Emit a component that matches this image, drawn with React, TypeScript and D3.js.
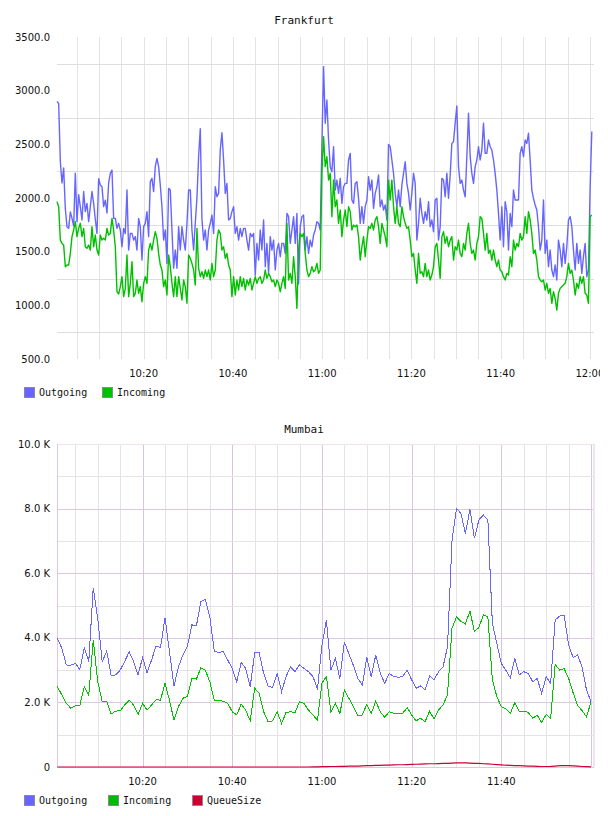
import React from "react";
import * as d3 from "d3";

// Frankfurt throughput, one sample every 22.4 s starting 10:00:35
const frankfurtOutgoing = [
  2900, 2880, 2340, 2140, 2280, 1900, 1733, 1717, 1870, 1810,
  1740, 2230, 1780, 2030, 1920, 1795, 2060, 1873, 1950, 1780,
  1920, 2060, 1950, 1800, 1670, 2180, 2120, 2105, 1920, 1980,
  1860, 2140, 2230, 2260, 1810, 1810, 1717, 1764, 1702, 1546,
  1717, 1670, 2074, 1515, 1670, 1670, 1608, 1640, 1515, 1810,
  1733, 1422, 1733, 1764, 1873, 1640, 2152, 2183, 2059, 2292,
  2369, 2292, 2121, 1919, 1608, 1702, 1391, 2090, 2074, 1702,
  1345, 1515, 1345, 1733, 1515, 1733, 1608, 1515, 1764, 2074,
  2074, 1702, 1515, 1764, 2000, 2385, 2646, 1800, 1608, 1702,
  1515, 1702, 1764, 1841, 1670, 2105, 2012, 2043, 2447, 2608,
  2354, 2043, 2136, 1795, 1810, 1873, 1919, 1670, 1733, 1608,
  1717, 1640, 1717, 1717, 1608, 1515, 1670, 1640, 1670, 1280,
  1577, 1422, 1702, 1515, 1795, 1360, 1577, 1300, 1640, 1515,
  1608, 1330, 1515, 1577, 1453, 1577, 1577, 1484, 1857, 1826,
  1577, 1702, 1826, 1577, 1857, 1200,
  1733, 1826, 1841, 1515, 1640, 1484, 1608, 1546, 1655, 1702,
  1779, 1764, 1702, 2500, 3224, 2696, 2913, 2540, 2292, 2245,
  2478, 2074, 2167, 2043, 2183, 1950, 2105, 2136, 2136, 2354,
  2416, 1981, 1950, 2136, 2152, 1997, 1764, 1919, 1764, 1919,
  1981, 2198, 2074, 2167, 1904, 2043, 2105, 2214, 1919, 1981,
  1888, 1935, 1795, 2500, 2478, 2354, 2230, 2043, 1919, 2074,
  1919, 2121, 2230, 2338, 2136, 2043, 1888, 2043, 2230, 2136,
  1608, 1764, 1997, 1857, 1764, 1873, 1795, 1966, 1733, 1795,
  1686, 1981, 1997, 1608, 1733, 2183, 2167, 2012, 2230, 1997,
  2214, 2509, 2525, 2700, 2857, 2292, 2136, 2167, 2074, 2012,
  2385, 2789, 2385, 2230, 2136, 2292, 2354, 2478, 2354, 2447,
  2696, 2416, 2416, 2540, 2478, 2447, 2354, 2230, 2074, 1857,
  1608, 1919, 1546, 1966, 1873, 1515, 1857, 1733, 2074, 1981,
  1981, 1981, 2416, 2478, 2385, 2540, 2509, 2603, 2354, 2074,
  1997, 1935, 1888, 1733, 1515, 1608, 1981, 1484, 1608, 1360,
  1515, 1329, 1267, 1376, 1236, 1608, 1515, 1360, 1577, 1391,
  1546, 1795, 1826, 1733, 1515, 1329, 1577, 1391, 1515, 1298,
  1453, 1577, 1267, 1329, 2100, 2620,
];

const frankfurtIncoming = [
  1966, 1919, 1608, 1577, 1562, 1360, 1376, 1376, 1484, 1640,
  1702, 1779, 1640, 1717, 1764, 1640, 1717, 1546, 1531, 1562,
  1515, 1733, 1546, 1655, 1515, 1469, 1655, 1608, 1624, 1608,
  1717, 1655, 1670, 1810, 1700, 1546, 1127, 1105, 1174, 1267,
  1081, 1158, 1469, 1081, 1205, 1407, 1081, 1112, 1236, 1112,
  1174, 1034, 1205, 1267, 1205, 1515, 1577, 1515, 1608, 1686,
  1624, 1484, 1376, 1329, 1174, 1236, 1096, 1469, 1360, 1205,
  1081, 1267, 1081, 1267, 1158, 1050, 1236, 1174, 1019, 1469,
  1438, 1391, 1329, 1189, 1717, 1345, 1267, 1313, 1251, 1329,
  1267, 1329, 1236, 1391, 1267, 1329, 1608, 1702, 1670, 1515,
  1546, 1438, 1484, 1376, 1329, 1081, 1267, 1096, 1236, 1143,
  1267, 1174, 1251, 1143, 1236, 1189, 1251, 1143, 1205, 1267,
  1205, 1251, 1267, 1205, 1236, 1329, 1251, 1298, 1267, 1220,
  1236, 1174, 1236, 1205, 1127, 1205, 1267, 1158, 1764, 1236,
  1298, 1205, 1453, 1267, 972, 1515,
  1670, 1640, 1670, 1484, 1329, 1267, 1298, 1360, 1313, 1329,
  1391, 1298, 1329, 2230, 2572, 2292, 2385, 2167, 2230, 1826,
  2167, 1919, 1981, 1764, 1888, 1640, 1795, 1888, 1733, 1919,
  1873, 1702, 1748, 1733, 1748, 1640, 1422, 1546, 1640, 1453,
  1608, 1733, 1717, 1764, 1702, 1795, 1826, 1733, 1577, 1764,
  1702, 1640, 1546, 2167, 1981, 2167, 1919, 1764, 1919, 1764,
  1733, 1919, 1826, 1764, 1717, 1733, 1608, 1453, 1484, 1329,
  1205, 1484, 1298, 1313, 1267, 1391, 1267, 1329, 1236, 1282,
  1360, 1546, 1577, 1422, 1251, 1640, 1686, 1577, 1640, 1546,
  1608, 1640, 1422, 1546, 1515, 1608, 1484, 1453, 1577, 1515,
  1670, 1764, 1577, 1484, 1515, 1422, 1577, 1640, 1826, 1810,
  1670, 1515, 1670, 1484, 1515, 1422, 1515, 1422, 1360, 1422,
  1329, 1313, 1267, 1236, 1298, 1282, 1453, 1360, 1608, 1515,
  1577, 1546, 1670, 1608, 1640, 1826, 1670, 1873, 1795, 1670,
  1484, 1515, 1422, 1267, 1236, 1220, 1236, 1143, 1205, 1112,
  1158, 1019, 1127, 1065, 956, 1112, 1158, 1174, 1189, 1205,
  1267, 1391, 1298, 1329, 1236, 1096, 1205, 1158, 1267, 1205,
  1267, 1112, 1096, 1019, 1826, 1841,
];

// Mumbai throughput, one sample per minute from 10:01 to 12:00
const mumbaiOutgoing = [
  3980, 3670, 3160, 3150, 3210, 3020, 3690, 3260, 5550, 4600,
  3260, 3590, 2820, 2850, 3000, 3260, 3570, 3260, 2850, 3390,
  2920, 3310, 3750, 3690, 4620, 3570, 2500, 3100, 3470, 3740,
  4400, 4370, 5120, 5190, 4650, 3570, 3550, 3570, 3310, 3050,
  2640, 3240, 3050, 2490, 3530, 3530, 2900, 2490, 2470, 2900,
  2330, 2800, 3100, 2950, 3170, 3050, 2950, 2800, 2400, 3770,
  4550, 3000, 3360, 2740, 3870, 3510, 3150, 2740, 2540, 3390,
  2800, 3470, 2900, 2590, 2900, 2800, 2780, 2800, 3000, 2700,
  2440, 2510, 2380, 2820, 2700, 2950, 3100, 3720, 7000, 8010,
  7850, 7230, 7980, 7080, 7650, 7800, 7650, 4450, 3820, 3200,
  3000, 2760, 3360, 2850, 2950, 2900, 2640, 2740, 2280, 2800,
  2590, 4550, 4670, 4700, 3780, 3390, 3470, 3100, 2380, 2020,
];

const mumbaiIncoming = [
  2490, 2230, 1970, 1820, 1890, 1900, 2490, 2230, 3930, 2640,
  2020, 2040, 1640, 1730, 1740, 1920, 2070, 1920, 1630, 1970,
  1760, 1920, 2080, 2070, 2590, 2070, 1450, 1870, 2130, 2180,
  2750, 2720, 3070, 3000, 2640, 2050, 2050, 2040, 1970, 1710,
  1610, 1950, 1760, 1430, 2440, 2280, 1710, 1400, 1430, 1710,
  1350, 1690, 1710, 1690, 2020, 1970, 1760, 1610, 1450, 2600,
  2800, 1710, 1970, 1660, 2380, 2130, 1870, 1580, 1610, 1940,
  1660, 2040, 1710, 1540, 1710, 1660, 1640, 1660, 1840, 1610,
  1430, 1510, 1400, 1730, 1480, 1760, 1920, 2230, 4290, 4650,
  4500, 4430, 4830, 4190, 4320, 4710, 4650, 2700, 2180, 1870,
  1800, 1660, 1990, 1710, 1730, 1690, 1510, 1610, 1370, 1630,
  1510, 3180, 3000, 3050, 2750, 2300, 1900, 1750, 1550, 2020,
];

const mumbaiQueueSize = [
  0, 0, 0, 0, 0, 0, 0, 0, 0, 0,
  0, 0, 0, 0, 0, 0, 0, 0, 0, 0,
  0, 0, 0, 0, 0, 0, 0, 0, 0, 0,
  0, 0, 0, 0, 0, 0, 0, 0, 0, 0,
  0, 0, 0, 0, 0, 0, 0, 0, 0, 0,
  0, 0, 0, 0, 0, 0, 0, 5, 5, 10,
  10, 15, 15, 20, 20, 25, 30, 30, 35, 40,
  45, 50, 50, 55, 60, 65, 70, 70, 75, 80,
  85, 90, 95, 100, 100, 105, 110, 115, 120, 125,
  125, 125, 120, 115, 110, 100, 95, 85, 75, 65,
  55, 50, 45, 40, 35, 30, 25, 20, 15, 15,
  20, 30, 40, 45, 40, 35, 25, 15, 10, 5,
];

const frankfurtYTicks = [500, 1000, 1500, 2000, 2500, 3000, 3500];
const frankfurtGridValues = [750, 1250, 1750, 2250, 2750, 3250];
const mumbaiYTicks = [0, 2000, 4000, 6000, 8000, 10000];
const mumbaiMinorValues = [1000, 3000, 5000, 7000, 9000];
const timeTickLabels = ["10:20", "10:40", "11:00", "11:20", "11:40", "12:00"];

const at = (h: number, m: number, s = 0) => new Date(2000, 0, 1, h, m, s);
const labelTime = (l: string) => {
  const [h, m] = l.split(":").map(Number);
  return at(h, m);
};

const AXIS_FONT = "'DejaVu Sans', sans-serif";
const MONO_FONT = "'DejaVu Sans Mono', monospace";

const BLUE = "#6666ff";
const GREEN = "#00c000";
const RED = "#cc0033";

type Pt = { t: Date; v: number };
const series = (values: number[], start: Date, stepSec: number): Pt[] =>
  values.map((v, i) => ({ t: new Date(start.getTime() + i * stepSec * 1000), v }));

function Legend({ y, items }: { y: number; items: { label: string; color: string; x: number }[] }) {
  return (
    <g>
      {items.map((it) => (
        <g key={it.label}>
          <rect x={it.x + 0.5} y={y + 0.5} width={10} height={10} fill={it.color} stroke="#8a8a8a" />
          <text x={it.x + 15} y={y + 9} fontFamily={MONO_FONT} fontSize={10} fill="#111">
            {it.label}
          </text>
        </g>
      ))}
    </g>
  );
}

function Frankfurt() {
  const left = 57, right = 594, top = 37, bottom = 359;
  const x = d3.scaleTime().domain([at(10, 0, 35), at(12, 0, 55)]).range([left, right]);
  const y = d3.scaleLinear().domain([500, 3500]).range([bottom, top]);
  const out = series(frankfurtOutgoing, at(10, 0, 35), 22.4);
  const inc = series(frankfurtIncoming, at(10, 0, 35), 22.4);
  const line = d3.line<Pt>().x((d) => x(d.t)).y((d) => y(d.v));
  const minutes = d3.timeMinute.every(5)!.range(x.domain()[0], x.domain()[1]);
  return (
    <g>
      <text x={304} y={24} textAnchor="middle" fontFamily={MONO_FONT} fontSize={11} fill="#111">
        Frankfurt
      </text>
      {minutes.map((m) => (
        <line key={+m} x1={Math.round(x(m)) + 0.5} x2={Math.round(x(m)) + 0.5} y1={top} y2={bottom} stroke="#e3e3e3" />
      ))}
      {frankfurtGridValues.map((v) => (
        <line key={v} x1={left} x2={right} y1={Math.round(y(v)) + 0.5} y2={Math.round(y(v)) + 0.5} stroke="#dedede" />
      ))}
      {frankfurtYTicks.map((v) => (
        <text key={v} x={50} y={y(v)} dy="0.36em" textAnchor="end" fontFamily={AXIS_FONT} fontSize={10} fill="#111">
          {d3.format(".1f")(v)}
        </text>
      ))}
      {timeTickLabels.map((l) => (
        <text key={l} x={x(labelTime(l))} y={377} textAnchor="middle" fontFamily={AXIS_FONT} fontSize={10} fill="#111">
          {l}
        </text>
      ))}
      <path d={line(out)!} fill="none" stroke={BLUE} strokeWidth={1.4} strokeLinejoin="round" />
      <path d={line(inc)!} fill="none" stroke={GREEN} strokeWidth={1.4} strokeLinejoin="round" />
      <Legend
        y={387}
        items={[
          { label: "Outgoing", color: BLUE, x: 24 },
          { label: "Incoming", color: GREEN, x: 102 },
        ]}
      />
    </g>
  );
}

function Mumbai() {
  const left = 57, right = 594, top = 444, bottom = 767;
  const x = d3.scaleTime().domain([at(10, 0, 55), at(12, 0, 40)]).range([left, right]);
  const y = d3.scaleLinear().domain([0, 10000]).range([bottom, top]);
  const out = series(mumbaiOutgoing, at(10, 1), 60);
  const inc = series(mumbaiIncoming, at(10, 1), 60);
  const queue = series(mumbaiQueueSize, at(10, 1), 60);
  const line = d3.line<Pt>().x((d) => x(d.t)).y((d) => y(d.v));
  const minutes = d3.timeMinute.every(5)!.range(x.domain()[0], x.domain()[1]);
  const px = (v: number) => Math.round(v) + 0.5;
  const fmtK = (v: number) => (v === 0 ? "0" : `${(v / 1000).toFixed(1)} K`);
  return (
    <g>
      <text x={304} y={432.5} textAnchor="middle" fontFamily={MONO_FONT} fontSize={11} fill="#111">
        Mumbai
      </text>
      {minutes.map((m) => {
        const major = m.getMinutes() % 20 === 0;
        return (
          <line key={+m} x1={px(x(m))} x2={px(x(m))} y1={top} y2={bottom} stroke={major ? "#d9c4dd" : "#e6e2e7"} />
        );
      })}
      {mumbaiMinorValues.map((v) => (
        <line key={v} x1={left} x2={right} y1={px(y(v))} y2={px(y(v))} stroke="#e6e2e7" />
      ))}
      {mumbaiYTicks.map((v) => (
        <line key={v} x1={left} x2={right} y1={px(y(v))} y2={px(y(v))} stroke={v === 10000 ? "#efe3f1" : "#dcc8e0"} />
      ))}
      <line x1={px(left)} x2={px(left)} y1={top} y2={bottom} stroke="#dcc8e0" />
      <line x1={right} x2={right} y1={top} y2={bottom} stroke="#efe3f1" strokeWidth={2} />
      {mumbaiYTicks.map((v) => (
        <text key={v} x={50} y={y(v)} dy="0.36em" textAnchor="end" fontFamily={AXIS_FONT} fontSize={10} fill="#111">
          {fmtK(v)}
        </text>
      ))}
      {timeTickLabels.slice(0, 5).map((l) => (
        <text key={l} x={x(labelTime(l))} y={785} textAnchor="middle" fontFamily={AXIS_FONT} fontSize={10} fill="#111">
          {l}
        </text>
      ))}
      <path d={line(out)!} fill="none" stroke={BLUE} strokeWidth={1} shapeRendering="crispEdges" />
      <path d={line(inc)!} fill="none" stroke={GREEN} strokeWidth={1} shapeRendering="crispEdges" />
      <path d={line(queue)!} fill="none" stroke={RED} strokeWidth={1.2} />
      <Legend
        y={795}
        items={[
          { label: "Outgoing", color: BLUE, x: 24 },
          { label: "Incoming", color: "#00bb00", x: 108 },
          { label: "QueueSize", color: RED, x: 192 },
        ]}
      />
    </g>
  );
}

export default function App() {
  return (
    <svg width={592} height={808} style={{ display: "block", background: "#fff" }}>
      <g transform="translate(-8,-8)">
        <Frankfurt />
        <Mumbai />
      </g>
    </svg>
  );
}
